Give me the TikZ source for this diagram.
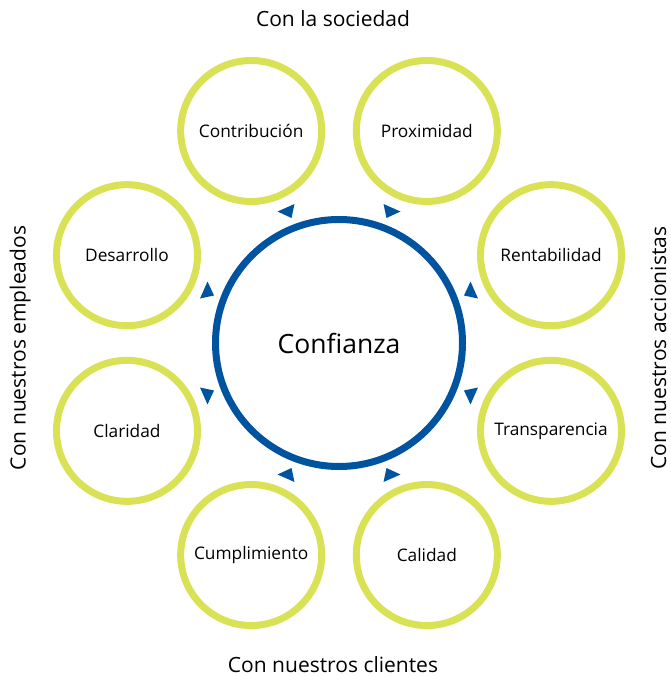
\documentclass[tikz,border=0pt]{standalone}
\usepackage{fontspec}
\setmainfont{Open Sans}
\usetikzlibrary{calc}
\definecolor{ringgreen}{RGB}{217,225,84}
\definecolor{ringblue}{RGB}{0,83,159}
\begin{document}
\begin{tikzpicture}[x=1pt,y=1pt,
  value/.style={circle, draw=ringgreen, line width=7pt, minimum size=141pt, inner sep=0pt, font=\fontsize{17.3}{19}\selectfont},
  core/.style={circle, draw=ringblue, line width=7pt, minimum size=247pt, inner sep=0pt, font=\fontsize{26.5}{30}\selectfont},
  group/.style={font=\fontsize{21}{24}\selectfont, inner sep=0pt},
  tri/.style={fill=ringblue}]
\useasboundingbox (0,0) rectangle (671,-677);
\coordinate (C) at (339,-343);
\node[core] (conf) at (C) {Confianza};
\node[value] (rent) at ($(C)+(22.5:229.5)$) {Rentabilidad};
\node[value] (prox) at ($(C)+(67.5:229.5)$) {Proximidad};
\node[value] (contr) at ($(C)+(112.5:229.5)$) {Contribución};
\node[value] (desa) at ($(C)+(157.5:229.5)$) {Desarrollo};
\node[value] (clar) at ($(C)+(202.5:229.5)$) {Claridad};
\node[value] (cump) at ($(C)+(247.5:229.5)$) {Cumplimiento};
\node[value] (cali) at ($(C)+(292.5:229.5)$) {Calidad};
\node[value] (trans) at ($(C)+(337.5:229.5)$) {Transparencia};
% group labels
\node[group, anchor=base] (soc) at (333,-27) {Con la sociedad};
\node[group, anchor=base] (cli) at (333,-672) {Con nuestros clientes};
\node[group, anchor=base, rotate=90] (emp) at (25.5,-348) {Con nuestros empleados};
\node[group, anchor=base, rotate=90] (acc) at (666,-348) {Con nuestros accionistas};
% small triangles around the core ring
\foreach \sx/\sy in {1/1,-1/1,1/-1,-1/-1}{
  \fill[tri, shift={(C)}, xscale=\sx, yscale=\sy] (61.5,131.5) -- (44.5,139) -- (47.5,125) -- cycle;
  \fill[tri, shift={(C)}, xscale=\sx, yscale=\sy] (131.5,61.5) -- (139,44.5) -- (125,47.5) -- cycle;
}
\end{tikzpicture}
\end{document}
